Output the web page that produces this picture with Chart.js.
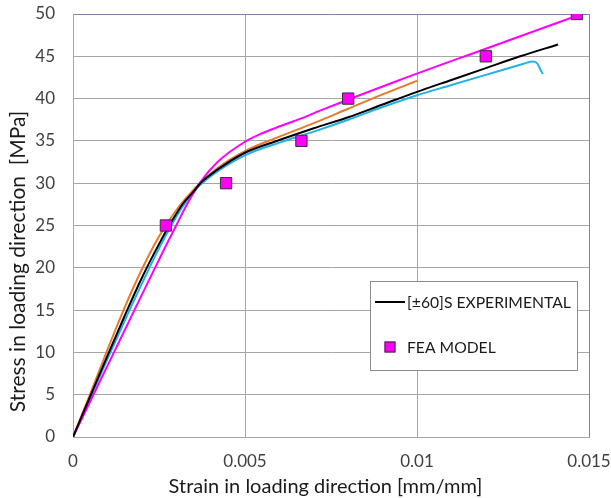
<!DOCTYPE html>
<html>
<head>
<meta charset="utf-8">
<script src="https://cdn.jsdelivr.net/npm/chart.js@4.4.1/dist/chart.umd.min.js"></script>
<style>
  html, body { margin: 0; padding: 0; background: #ffffff; }
  #wrap { width: 611px; height: 498px; position: relative; }
</style>
</head>
<body>
<div id="wrap"><canvas id="chart" width="611" height="498"></canvas></div>
<script>
// Strain [mm/mm] / stress [MPa] pairs for each curve
const expStrain = [0, 0.0005, 0.001, 0.0015, 0.002, 0.0025, 0.0029, 0.0032, 0.0035, 0.0037, 0.0042, 0.005, 0.006, 0.007, 0.008, 0.009, 0.010, 0.011, 0.012, 0.013, 0.0141];
const expStress = [0, 4.8, 9.6, 14.3, 18.8, 22.8, 25.7, 27.6, 29.0, 30.0, 31.6, 33.6, 35.1, 36.5, 37.8, 39.3, 40.8, 42.2, 43.6, 45.0, 46.4];

const specBStrain = [0, 0.0005, 0.001, 0.0015, 0.002, 0.0025, 0.003, 0.0035, 0.0037, 0.0042, 0.005, 0.006, 0.007, 0.008, 0.009, 0.010];
const specBStress = [0, 5.1, 10.3, 15.3, 19.8, 23.7, 26.8, 29.2, 30.0, 31.8, 33.8, 35.5, 37.1, 38.8, 40.5, 42.1];

const specCStrain = [0, 0.0005, 0.001, 0.0015, 0.002, 0.0025, 0.0029, 0.0032, 0.0035, 0.0037, 0.0042, 0.005, 0.006, 0.007, 0.008, 0.009, 0.010, 0.011, 0.012, 0.013, 0.0132, 0.01335, 0.01349, 0.01358, 0.01366];
const specCStress = [0, 4.6, 9.2, 13.7, 18.1, 22.3, 25.3, 27.3, 28.9, 29.8, 31.4, 33.3, 34.8, 36.1, 37.5, 39.0, 40.4, 41.6, 42.8, 44.0, 44.25, 44.4, 44.2, 43.5, 42.9];

const feaCurveStrain = [0, 0.001, 0.002, 0.0027, 0.003, 0.0033, 0.0037, 0.0042, 0.005, 0.0055, 0.006, 0.0066, 0.0072, 0.0095, 0.012, 0.01465];
const feaCurveStress = [0, 8.4, 16.8, 22.6, 25.0, 27.4, 30.1, 32.5, 34.9, 35.9, 36.7, 37.6, 38.6, 42.2, 45.9, 49.8];

const feaStrain = [0.0027, 0.00445, 0.00664, 0.0080, 0.0120, 0.01465];
const feaStress = [25, 30, 35, 40, 45, 50];

// Axis ranges, tick steps and titles
const strainTicks = [0, 0.005, 0.01, 0.015];
const stressMax = 50;
const stressStep = 5;
const xTitle = 'Strain in loading direction [mm/mm]';
const yTitle = 'Stress in loading direction  [MPa]';

const pairs = (xs, ys) => xs.map((x, i) => ({ x: x, y: ys[i] }));

const FONT = 'Lato, "Open Sans", sans-serif';
const GRID = '#a6a6a6';
const FRAME = '#8a7aa8';

// Axis titles placed by hand so they sit where the page layout wants them
const axisTitles = {
  id: 'axisTitles',
  afterDraw(chart, args, opts) {
    const { ctx } = chart;
    ctx.save();
    ctx.fillStyle = opts.color;
    ctx.textAlign = 'center';
    ctx.textBaseline = 'alphabetic';
    ctx.font = opts.xFont;
    ctx.fillText(opts.xText, opts.xCenter, opts.xBaseline);
    ctx.translate(opts.yBaseline, opts.yCenter);
    ctx.rotate(-Math.PI / 2);
    ctx.font = opts.yFont;
    ctx.fillText(opts.yText, 0, 0);
    ctx.restore();
  }
};

// Legend drawn inside the plot area
const boxLegend = {
  id: 'boxLegend',
  afterDraw(chart, args, opts) {
    const { ctx } = chart;
    const ds = chart.data.datasets;
    ctx.save();
    ctx.fillStyle = '#ffffff';
    ctx.fillRect(opts.x, opts.y, opts.w, opts.h);
    ctx.strokeStyle = '#8c8c8c';
    ctx.lineWidth = 1;
    ctx.strokeRect(opts.x + 0.5, opts.y + 0.5, opts.w, opts.h);
    ctx.font = opts.font;
    ctx.textBaseline = 'middle';
    opts.items.forEach((idx, row) => {
      const d = ds[idx];
      const cy = opts.y + opts.rowY[row];
      if (d.pointRadius > 0) {
        const s = opts.markerSize;
        ctx.fillStyle = d.backgroundColor;
        ctx.fillRect(opts.symX - s / 2, cy - s / 2, s, s);
        ctx.strokeStyle = d.borderColor;
        ctx.lineWidth = 1;
        ctx.strokeRect(opts.symX - s / 2 + 0.5, cy - s / 2 + 0.5, s - 1, s - 1);
      } else {
        ctx.strokeStyle = d.borderColor;
        ctx.lineWidth = d.borderWidth;
        ctx.beginPath();
        ctx.moveTo(opts.symX - opts.lineLen / 2, cy);
        ctx.lineTo(opts.symX + opts.lineLen / 2, cy);
        ctx.stroke();
      }
      ctx.fillStyle = '#1a1a1a';
      ctx.fillText(d.label, opts.textX, cy + 1);
    });
    ctx.restore();
  }
};

new Chart(document.getElementById('chart'), {
  type: 'scatter',
  data: {
    datasets: [
      {
        label: 'FEA MODEL',
        data: pairs(feaStrain, feaStress),
        pointStyle: 'rect',
        pointRadius: 8,
        pointHoverRadius: 8,
        backgroundColor: '#ff00ff',
        borderColor: '#333333',
        pointBorderWidth: 1,
        showLine: false
      },
      {
        label: '[±60]S EXPERIMENTAL',
        data: pairs(expStrain, expStress),
        showLine: true,
        borderColor: '#000000',
        backgroundColor: '#000000',
        borderWidth: 2,
        pointRadius: 0,
        cubicInterpolationMode: 'monotone'
      },
      {
        label: 'FEA curve',
        data: pairs(feaCurveStrain, feaCurveStress),
        showLine: true,
        borderColor: '#ff00ff',
        backgroundColor: '#ff00ff',
        borderWidth: 2,
        pointRadius: 0,
        cubicInterpolationMode: 'monotone'
      },
      {
        label: '[±60]S specimen B',
        data: pairs(specBStrain, specBStress),
        showLine: true,
        borderColor: '#e8792a',
        backgroundColor: '#e8792a',
        borderWidth: 2,
        pointRadius: 0,
        cubicInterpolationMode: 'monotone'
      },
      {
        label: '[±60]S specimen C',
        data: pairs(specCStrain, specCStress),
        showLine: true,
        borderColor: '#22b2e6',
        backgroundColor: '#22b2e6',
        borderWidth: 2,
        pointRadius: 0,
        cubicInterpolationMode: 'monotone'
      }
    ]
  },
  options: {
    responsive: false,
    animation: false,
    events: [],
    layout: { padding: { top: 14, right: 22, bottom: 0, left: 0 } },
    scales: {
      x: {
        type: 'linear',
        min: strainTicks[0],
        max: strainTicks[strainTicks.length - 1],
        afterBuildTicks: (scale) => { scale.ticks = strainTicks.map(v => ({ value: v })); },
        afterFit: (scale) => { scale.height = 61; scale.paddingLeft = 0; scale.paddingRight = 0; },
        grid: {
          drawTicks: false,
          lineWidth: 1,
          color: (c) => (c.tick && c.tick.value === strainTicks[strainTicks.length - 1]) ? FRAME : GRID
        },
        border: { display: true, color: GRID, width: 1 },
        ticks: {
          padding: 14,
          color: '#404040',
          font: { family: FONT, size: 17 },
          callback: (v) => String(v)
        },
        title: { display: false }
      },
      y: {
        type: 'linear',
        min: 0,
        max: stressMax,
        ticks: {
          stepSize: stressStep,
          padding: 18,
          color: '#404040',
          font: { family: FONT, size: 17 }
        },
        afterFit: (scale) => { scale.width = 73; scale.paddingTop = 0; scale.paddingBottom = 0; },
        grid: {
          drawTicks: false,
          lineWidth: 1,
          color: (c) => (c.tick && c.tick.value === stressMax) ? FRAME : GRID
        },
        border: { display: true, color: GRID, width: 1 },
        title: { display: false }
      }
    },
    plugins: {
      legend: { display: false },
      tooltip: { enabled: false },
      axisTitles: {
        color: '#1a1a1a',
        xText: xTitle,
        xFont: '20px ' + FONT,
        xCenter: 325.5,
        xBaseline: 493,
        yText: yTitle,
        yFont: '21px ' + FONT,
        yCenter: 261.5,
        yBaseline: 25
      },
      boxLegend: {
        x: 370, y: 281, w: 207, h: 89,
        items: [1, 0],
        rowY: [21, 66],
        symX: 390,
        lineLen: 30,
        markerSize: 11,
        textX: 407,
        font: '15.7px ' + FONT
      }
    }
  },
  plugins: [axisTitles, boxLegend]
});
</script>
</body>
</html>
